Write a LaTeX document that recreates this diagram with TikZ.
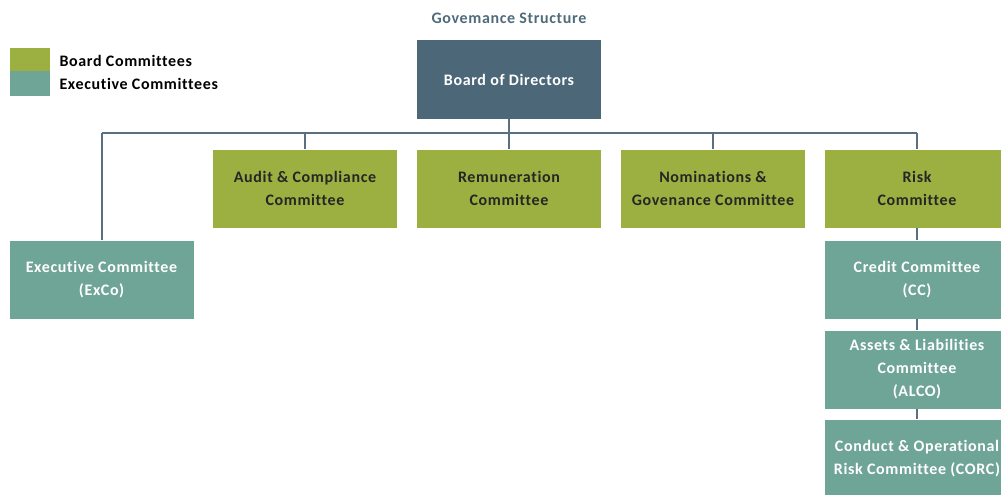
\documentclass[tikz,border=0pt]{standalone}
\usepackage{fontspec}
\setmainfont{Carlito}[LetterSpace=4,Ligatures=NoCommon]
\usetikzlibrary{positioning}

\definecolor{bodblue}{HTML}{4C6878}
\definecolor{boardgreen}{HTML}{9BB040}
\definecolor{execteal}{HTML}{6FA596}
\definecolor{linegray}{HTML}{5A7080}
\definecolor{titleblue}{HTML}{4F6B7B}

\begin{document}
\begin{tikzpicture}[x=1pt,y=-1pt,node distance=204pt,
  box/.style={rectangle,minimum width=184pt,minimum height=78pt,inner sep=0pt,
    align=center,font=\bfseries\fontsize{16}{23}\selectfont},
  bod node/.style={box,fill=bodblue,text=white},
  board node/.style={box,fill=boardgreen,text=black!85},
  exec node/.style={box,fill=execteal,text=white},
  conn/.style={draw=linegray,line width=2pt}]

 \clip (0,0) rectangle (1001,495);
 \useasboundingbox (0,0) rectangle (1001,495);

 % title and legend
 \node[text=titleblue,font=\bfseries\fontsize{16}{18}\selectfont] (title) at (509,18) {Govemance Structure};
 \fill[boardgreen] (10,48) rectangle (50,71);
 \fill[execteal] (10,71) rectangle (50,96);
 \node[anchor=west,font=\bfseries\fontsize{16}{18}\selectfont] (lgboard) at (56,61) {Board Committees};
 \node[anchor=west,font=\bfseries\fontsize{16}{18}\selectfont] (lgexec) at (56,84) {Executive Committees};

 % boxes
 \node[bod node] (bod) at (509,79.5) {Board of Directors};
 \node[board node] (rem) at (509,188.5) {Remuneration\\Committee};
 \node[board node] (aud) [left of=rem] {Audit \& Compliance\\Committee};
 \node[board node] (nom) [right of=rem] {Nominations \&\\Govenance Committee};
 \node[board node] (risk) [right of=nom] {Risk\\Committee};
 \node[exec node] (exco) at (101.5,279.5) {Executive Committee\\(ExCo)};
 \node[exec node] (cc) [below of=risk,node distance=91pt] {Credit Committee\\(CC)};
 \node[exec node] (alco) [below of=cc,node distance=90pt] {Assets \& Liabilities\\Committee\\(ALCO)};
 \node[exec node] (corc) [below of=alco,node distance=89pt] {Conduct \& Operational\\Risk Committee (CORC)};

 % connectors
 \coordinate (busL) at (101.5,133);
 \coordinate (busR) at (risk.north |- busL);
 \draw[conn] (busL) -- (busR);
 \draw[conn] (bod.south) -- (bod.south |- busL);
 \draw[conn] (busL) -- (exco.north);
 \draw[conn] (aud.north |- busL) -- (aud.north);
 \draw[conn] (rem.north |- busL) -- (rem.north);
 \draw[conn] (nom.north |- busL) -- (nom.north);
 \draw[conn] (busR) -- (risk.north);
 \draw[conn] (risk) -- (cc);
 \draw[conn] (cc) -- (alco);
 \draw[conn] (alco) -- (corc);

\end{tikzpicture}
\end{document}
